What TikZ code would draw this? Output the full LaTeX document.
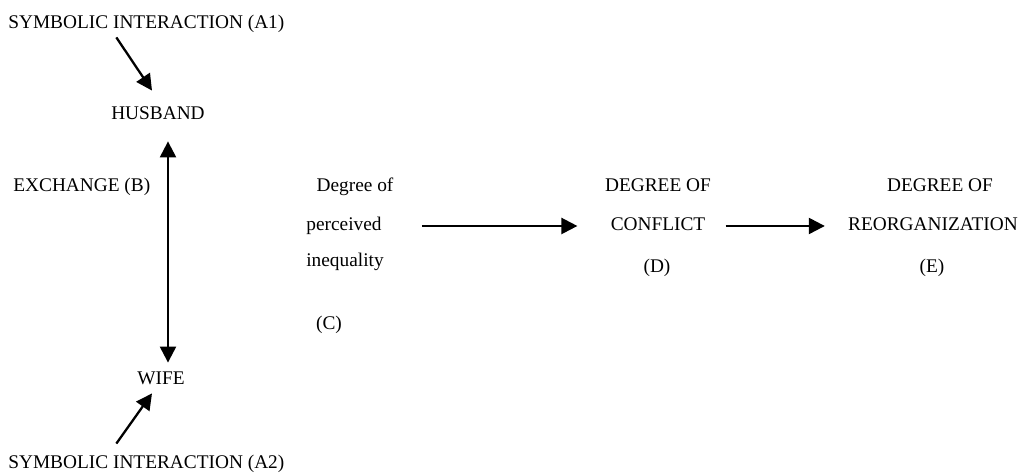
\documentclass[tikz,border=0pt]{standalone}
\usepackage{fontspec}
\setmainfont{Liberation Serif}
\usetikzlibrary{arrows.meta}

\begin{document}
\begin{tikzpicture}[
    txt/.style={inner sep=0pt,font=\fontsize{11}{13}\selectfont,text height=1.6ex,text depth=.4ex},
    link/.style={line width=1.3pt,-{Triangle[length=0.32cm,width=0.32cm]}},
    duallink/.style={line width=1.3pt,{Triangle[length=0.32cm,width=0.32cm]}-{Triangle[length=0.32cm,width=0.32cm]}}
    ]
            \useasboundingbox (0,0) rectangle (20.58,9.48);
            \node[txt,anchor=west] (symA) at (0.16,9.00){SYMBOLIC INTERACTION (A1)};
            \node[txt] (husband) at (3.16,7.18){HUSBAND};
            \node[txt,anchor=west] (exch) at (0.26,5.74){EXCHANGE (B)};
            \node[txt] (wife) at (3.22,1.88){WIFE};
            \node[txt,anchor=west] (symB) at (0.16,0.20){SYMBOLIC INTERACTION (A2)};
            \node[txt] (degC) at (7.10,5.74){Degree of};
            \node[txt] (perc) at (6.88,4.96){perceived};
            \node[txt] (ineq) at (6.90,4.24){inequality};
            \node[txt] (labC) at (6.58,2.98){(C)};
            \node[txt] (degD) at (13.16,5.74){DEGREE OF};
            \node[txt] (confl) at (13.16,4.96){CONFLICT};
            \node[txt] (labD) at (13.14,4.12){(D)};
            \node[txt] (degE) at (18.80,5.74){DEGREE OF};
            \node[txt] (reorg) at (18.66,4.96){REORGANIZATION};
            \node[txt] (labE) at (18.64,4.12){(E)};
            \draw[link] ([xshift=-0.6cm,yshift=-0.1cm]symA.south) -- ([xshift=-0.12cm,yshift=0.32cm]husband.north);
            \draw[link] ([xshift=-0.6cm,yshift=0.24cm]symB.north) -- ([xshift=-0.18cm,yshift=-0.1cm]wife.south);
            \draw[duallink,shorten <=0.36cm,shorten >=0.18cm] ([xshift=0.2cm]husband.south) -- ([xshift=0.14cm]wife.north);
            \draw[link,shorten <=0.80cm,shorten >=0.66cm] (perc.east) -- (confl.west);
            \draw[link,shorten <=0.40cm,shorten >=0.46cm] (confl.east) -- (reorg.west);
\end{tikzpicture}
\end{document}
